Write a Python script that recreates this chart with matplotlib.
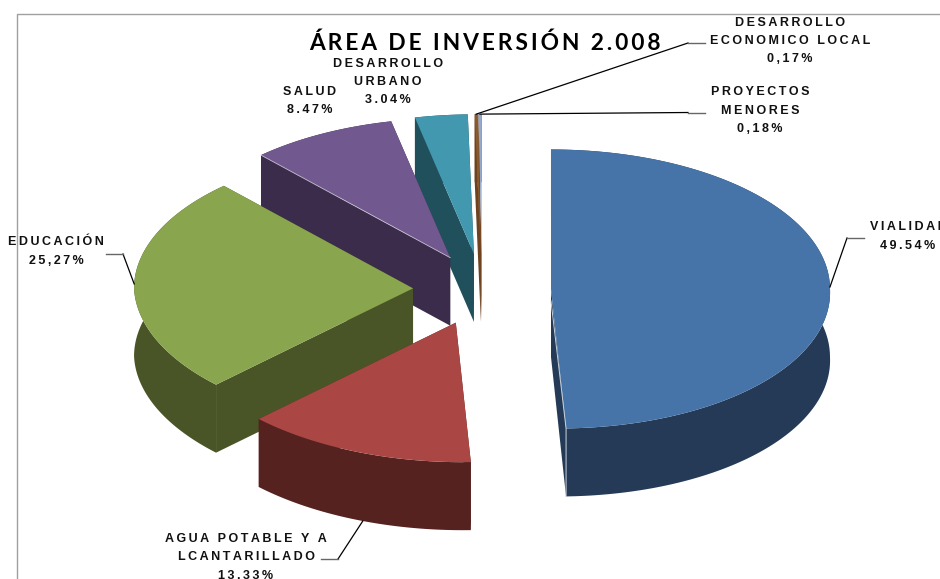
from __future__ import annotations

import numpy as np
import matplotlib
matplotlib.use("Agg")
import matplotlib.pyplot as plt
from matplotlib.patches import Polygon

THIN = "\u2009"

labels = [
    "VIALIDAD\n49.54%",
    "AGUA POTABLE Y A\nLCANTARILLADO\n13.33%",
    "EDUCACIÓN\n25,27%",
    "SALUD\n8.47%",
    "DESARROLLO\nURBANO\n3.04%",
    "DESARROLLO\nECONOMICO LOCAL\n0,17%",
    "PROYECTOS\nMENORES\n0,18%",
]
values = [49.54, 13.33, 25.27, 8.47, 3.04, 0.17, 0.18]
top_colors = ["#4674A8", "#AA4643", "#89A54E", "#71588F", "#4198AF", "#8A5A2B", "#93A9CF"]
wall_colors = ["#243A56", "#552220", "#4A5527", "#3A2C4A", "#20505C", "#6E4220", "#6E4220"]

# label centres, in pixels of the picture
label_x = [908, 246, 56, 310, 388, 790, 760]
label_y = [236.5, 557.5, 251.5, 101, 82, 41, 110.5]
# leader lines: knee and end of each one, None where the chart has no leader
leader_knee = [(847, 238), (338, 559), (123, 254), None, None, (688, 43), (688, 112.5)]
leader_end = [(864, 238), (321, 559), (106, 254), None, None, (705, 43), (705, 112.5)]
leader_frac = [0.5, 0.47, 0.5, None, None, 0.5, 0.5]

CX, CY = 482, 289.5
RX, RY = 279, 139.5
EXPLODE = 69
EXPLODE_Y = 0.52
SKEW = 7  # the front of the pie sits a little to the right
DEPTH = 68


def spaced(s: str) -> str:
    return "\n".join(THIN.join(line) for line in s.split("\n"))


def point(ox, oy, deg):
    a = np.radians(deg)
    return ox + RX * np.sin(a) + SKEW * np.maximum(0, -np.cos(a)), oy - RY * np.cos(a)


fig = plt.figure(figsize=(9.4, 5.79), dpi=100)
ax = fig.add_axes([0, 0, 1, 1])
ax.set_xlim(0, 940)
ax.set_ylim(579, 0)
ax.axis("off")

# chart frame, cut by the picture on two sides
ax.plot([17, 17, 940], [579, 14, 14], color="#A0A0A0", lw=1.0, zorder=0)

edges = np.concatenate([[0], np.cumsum(values)]) * 360 / sum(values)
mids = (edges[:-1] + edges[1:]) / 2
order = np.argsort(-np.cos(np.radians(mids)))

for i in order:
    m = np.radians(mids[i])
    ox = CX + EXPLODE * np.sin(m)
    oy = CY - EXPLODE * np.cos(m) * EXPLODE_Y
    ang = np.linspace(edges[i], edges[i + 1], max(int(values[i] * 3.6), 4))
    arc_x, arc_y = point(ox, oy, ang)
    for e in (edges[i], edges[i + 1]):
        ex, ey = point(ox, oy, e)
        ax.add_patch(Polygon([(ox, oy), (ex, ey), (ex, ey + DEPTH), (ox, oy + DEPTH)],
                             fc=wall_colors[i], ec="none", zorder=2))
    rim = np.column_stack([np.r_[arc_x, arc_x[::-1]], np.r_[arc_y, arc_y[::-1] + DEPTH]])
    ax.add_patch(Polygon(rim, fc=wall_colors[i], ec="none", zorder=2))
    top = np.column_stack([np.r_[ox, arc_x], np.r_[oy, arc_y]])
    ax.add_patch(Polygon(top, fc=top_colors[i], ec="none", zorder=2))

    # pale bevel where a cut face meets the top or the rim
    if i == 0:
        ex, ey = point(ox, oy, edges[1])
        ax.plot([ox, ex, ex], [oy + 12, ey, ey + DEPTH], color="#C8D2DE", lw=0.7, zorder=2)
    if i == 3:
        ex, ey = point(ox, oy, edges[3])
        ax.plot([ex, ox], [ey, oy], color="#C8C0D2", lw=0.6, zorder=2)

    if leader_knee[i] is not None:
        sx, sy = point(ox, oy, edges[i] + leader_frac[i] * (edges[i + 1] - edges[i]))
        if i == 1:
            sy += DEPTH
        kx, ky = leader_knee[i]
        ex, ey = leader_end[i]
        ax.plot([sx, kx], [sy, ky], color="black", lw=0.9, zorder=3)
        ax.plot([kx, ex], [ky, ey], color="#666666", lw=1.0, zorder=3)

    ax.text(label_x[i], label_y[i], spaced(labels[i]), ha="center", va="center",
            family=["Liberation Sans", "DejaVu Sans"], fontweight="bold", fontsize=9,
            color="#111111", linespacing=1.72, zorder=4)

ax.text(485, 43, spaced("ÁREA DE INVERSIÓN 2.008"), ha="center", va="center",
        family=["Lato", "DejaVu Sans"], fontweight="bold", fontsize=16.4, color="black", zorder=4)

fig.savefig("out.png", dpi=100)
